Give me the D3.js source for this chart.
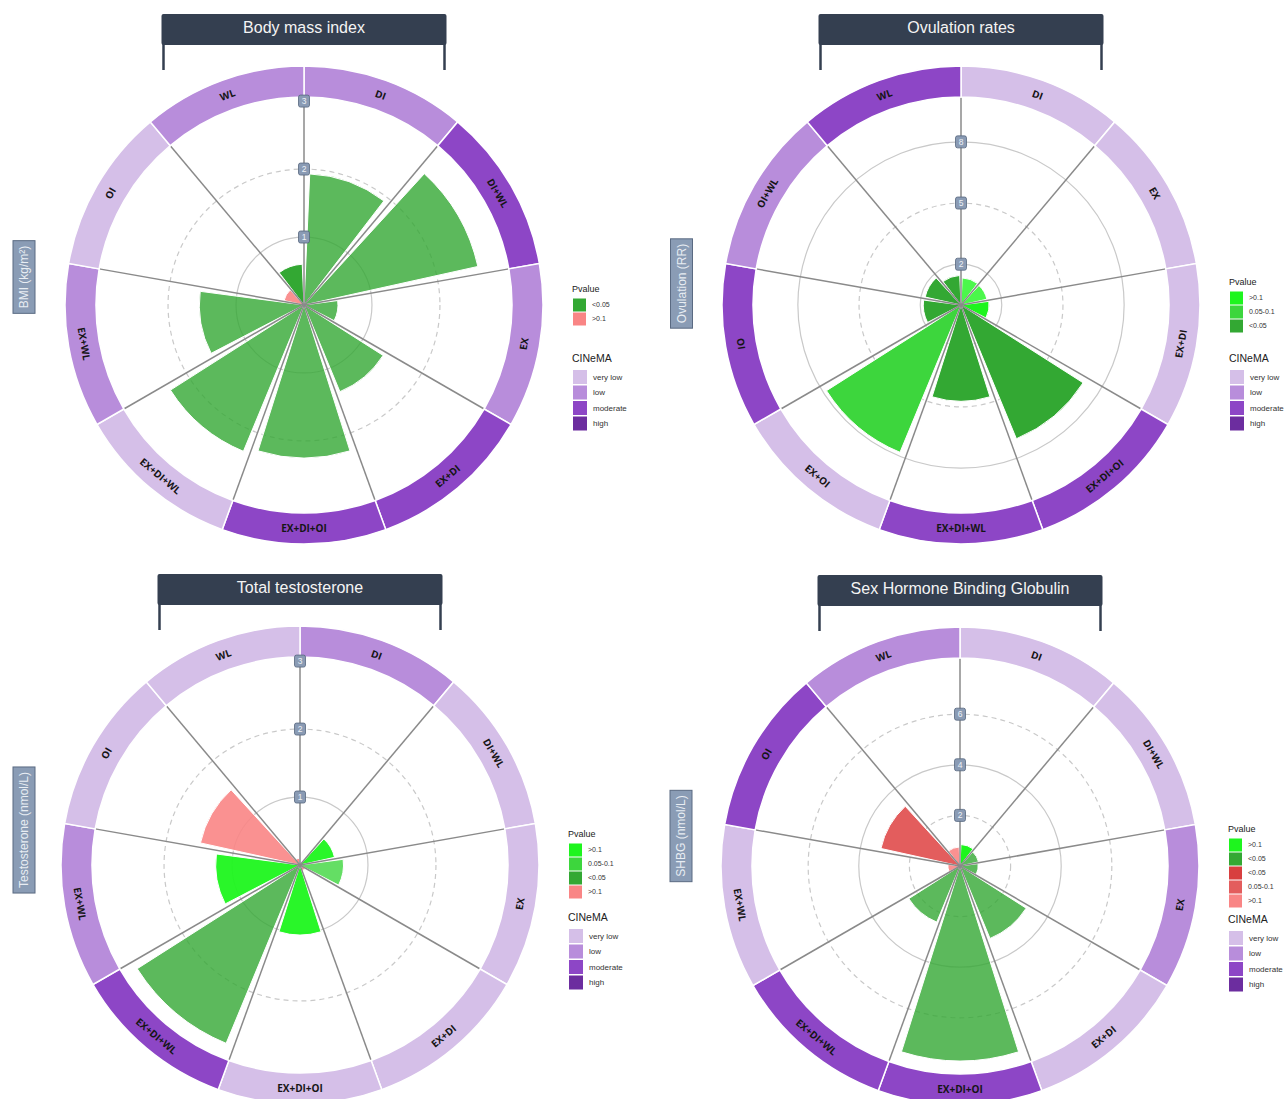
<!DOCTYPE html>
<html>
<head>
<meta charset="utf-8">
<script src="https://cdn.jsdelivr.net/npm/d3@7"></script>
<style>
  body { margin: 0; background: #ffffff; }
  svg { display: block; }
</style>
</head>
<body>
<svg id="fig" width="1287" height="1099"></svg>
<script>
// ---------- data ----------
const bmiCategories = ["DI", "DI+WL", "EX", "EX+DI", "EX+DI+OI", "EX+DI+WL", "EX+WL", "OI", "WL"];
const bmiValues     = [1.93, 2.62, 0.5, 1.38, 2.25, 2.33, 1.54, 0.3, 0.6];
const bmiPvalue     = ["+<0.05", "+<0.05", "+<0.05", "+<0.05", "+<0.05", "+<0.05", "+<0.05", "->0.1", "+<0.05"];
const bmiCinema     = ["low", "moderate", "low", "moderate", "moderate", "very low", "low", "very low", "low"];
const bmiTicks      = [1, 2, 3];
const bmiLegend     = ["+<0.05", "->0.1"];

const ovuCategories = ["DI", "EX", "EX+DI", "EX+DI+OI", "EX+DI+WL", "EX+OI", "OI", "OI+WL", "WL"];
const ovuValues     = [1.33, 1.3, 1.38, 7.1, 4.72, 7.82, 1.85, 1.8, 1.45];
const ovuPvalue     = ["+>0.1", "+>0.1", "+>0.1", "+<0.05", "+<0.05", "+0.05-0.1", "+<0.05", "+<0.05", "+<0.05"];
const ovuCinema     = ["very low", "very low", "very low", "moderate", "moderate", "very low", "moderate", "low", "moderate"];
const ovuTicks      = [2, 5, 8];
const ovuLegend     = ["+>0.1", "+0.05-0.1", "+<0.05"];

const ttCategories  = ["DI", "DI+WL", "EX", "EX+DI", "EX+DI+OI", "EX+DI+WL", "EX+WL", "OI", "WL"];
const ttValues      = [0, 0.52, 0.64, 0.09, 1.03, 2.84, 1.24, 1.5, 0.1];
const ttPvalue      = ["+>0.1", "+>0.1", "+0.05-0.1", "->0.1", "+>0.1", "+<0.05", "+>0.1", "->0.1", "->0.1"];
const ttCinema      = ["low", "very low", "very low", "very low", "very low", "moderate", "low", "very low", "very low"];
const ttTicks       = [1, 2, 3];
const ttLegend      = ["+>0.1", "+0.05-0.1", "+<0.05", "->0.1"];

const shbgCategories = ["DI", "DI+WL", "EX", "EX+DI", "EX+DI+OI", "EX+DI+WL", "EX+WL", "OI", "WL"];
const shbgValues     = [0.85, 0.75, 0.72, 3.1, 7.7, 2.4, 0.48, 3.2, 0.75];
const shbgPvalue     = ["+>0.1", "+<0.05", "+<0.05", "+<0.05", "+<0.05", "+<0.05", "->0.1", "-0.05-0.1", "->0.1"];
const shbgCinema     = ["very low", "very low", "low", "very low", "moderate", "moderate", "very low", "moderate", "low"];
const shbgTicks      = [2, 4, 6];
const shbgLegend     = ["+>0.1", "+<0.05", "-<0.05", "-0.05-0.1", "->0.1"];

const cinemaLevels = ["very low", "low", "moderate", "high"];

// ---------- styles ----------
// p-value classes: leading sign gives the direction of the effect (green / red)
const pColors = {
  "+>0.1": "#1ef51e",
  "+0.05-0.1": "#3dd63d",
  "+<0.05": "#33a833",
  "-<0.05": "#d83f3f",
  "-0.05-0.1": "#e35d5d",
  "->0.1": "#f98585"
};
const cinemaColors = {
  "very low": "#d5bfe8",
  "low": "#b88ddb",
  "moderate": "#8d46c6",
  "high": "#6c2d9f"
};
// bar fill opacity per sector
const bmiAlpha  = [0.8, 0.8, 0.8, 0.8, 0.8, 0.8, 0.8, 0.9, 1];
const ovuAlpha  = [0.8, 0.8, 1, 1, 1, 1, 1, 1, 1];
const ttAlpha   = [1, 0.95, 0.8, 0.9, 0.95, 0.8, 0.95, 0.9, 0.9];
const shbgAlpha = [1, 0.8, 0.8, 0.8, 0.8, 0.8, 0.9, 1, 0.9];

const R_INNER = 208, R_OUTER = 239;
const PAD = 2.5 * Math.PI / 180;

const panels = [
  { title: "Body mass index", yLabel: "BMI (kg/m²)", cx: 304, cy: 305, rMax: 3.06,
    categories: bmiCategories, values: bmiValues, pvalue: bmiPvalue, cinema: bmiCinema,
    alpha: bmiAlpha, ticks: bmiTicks, legend: bmiLegend,
    grid: [[1, false], [2, true]],
    yBox: [24, 277], pTitleY: 289, cTitleY: 358 },
  { title: "Ovulation rates", yLabel: "Ovulation (RR)", cx: 961, cy: 305, rMax: 10.2,
    categories: ovuCategories, values: ovuValues, pvalue: ovuPvalue, cinema: ovuCinema,
    alpha: ovuAlpha, ticks: ovuTicks, legend: ovuLegend,
    grid: [[2, false], [5, true], [8, false]],
    yBox: [681.5, 283.5], pTitleY: 282, cTitleY: 358 },
  { title: "Total testosterone", yLabel: "Testosterone (nmol/L)", cx: 300, cy: 865, rMax: 3.06,
    categories: ttCategories, values: ttValues, pvalue: ttPvalue, cinema: ttCinema,
    alpha: ttAlpha, ticks: ttTicks, legend: ttLegend,
    grid: [[1, false], [2, true]],
    yBox: [24, 830], pTitleY: 834, cTitleY: 917 },
  { title: "Sex Hormone Binding Globulin", yLabel: "SHBG (nmol/L)", cx: 960, cy: 866, rMax: 8.22,
    categories: shbgCategories, values: shbgValues, pvalue: shbgPvalue, cinema: shbgCinema,
    alpha: shbgAlpha, ticks: shbgTicks, legend: shbgLegend,
    grid: [[2, true], [4, false], [6, true]],
    yBox: [681, 836], pTitleY: 829, cTitleY: 919 }
];

const svg = d3.select("#fig");
const SANS = "'Liberation Sans', Arial, sans-serif";

function drawPanel(p) {
  const g = svg.append("g").attr("transform", `translate(${p.cx},${p.cy})`);
  const angle = d3.scaleBand().domain(p.categories).range([0, 2 * Math.PI]);
  const r = d3.scaleLinear().domain([0, p.rMax]).range([0, R_INNER]);
  const rows = p.categories.map((c, i) => ({
    cat: c, value: p.values[i], p: p.pvalue[i], cinema: p.cinema[i], alpha: p.alpha[i]
  }));
  const pt = (a, rad) => [rad * Math.sin(a), -rad * Math.cos(a)];

  // grid circles
  g.selectAll("circle.grid").data(p.grid).join("circle")
    .attr("class", "grid")
    .attr("r", d => r(d[0]))
    .attr("fill", "none")
    .attr("stroke", "#c9c9c9")
    .attr("stroke-width", 1.2)
    .attr("stroke-dasharray", d => d[1] ? "5,4" : null);

  // bars
  const barArc = d3.arc()
    .innerRadius(0)
    .outerRadius(d => r(d.value))
    .startAngle(d => angle(d.cat) + PAD)
    .endAngle(d => angle(d.cat) + angle.bandwidth() - PAD);
  g.selectAll("path.bar").data(rows.filter(d => d.value > 0)).join("path")
    .attr("class", "bar")
    .attr("d", barArc)
    .attr("fill", d => pColors[d.p])
    .attr("fill-opacity", d => d.alpha)
    .attr("stroke", "#ffffff")
    .attr("stroke-width", 1);

  // spokes at sector boundaries
  g.selectAll("line.spoke").data(p.categories).join("line")
    .attr("class", "spoke")
    .attr("x1", 0).attr("y1", 0)
    .attr("x2", d => pt(angle(d), R_INNER)[0])
    .attr("y2", d => pt(angle(d), R_INNER)[1])
    .attr("stroke", "#8a8a8a")
    .attr("stroke-width", 1.5);

  // outer CINeMA ring
  const ringArc = d3.arc()
    .innerRadius(R_INNER).outerRadius(R_OUTER)
    .startAngle(d => angle(d.cat))
    .endAngle(d => angle(d.cat) + angle.bandwidth());
  g.selectAll("path.ring").data(rows).join("path")
    .attr("class", "ring")
    .attr("d", ringArc)
    .attr("fill", d => cinemaColors[d.cinema])
    .attr("stroke", "#ffffff")
    .attr("stroke-width", 1.5);

  // ring labels, kept upright on the lower half
  const rMid = (R_INNER + R_OUTER) / 2;
  g.selectAll("text.ringlab").data(rows).join("text")
    .attr("class", "ringlab")
    .attr("transform", d => {
      const a = angle(d.cat) + angle.bandwidth() / 2;
      const deg = a * 180 / Math.PI;
      const [x, y] = pt(a, rMid);
      const rot = (deg > 90 && deg < 270) ? deg - 180 : deg;
      return `translate(${x},${y}) rotate(${rot})`;
    })
    .attr("text-anchor", "middle")
    .attr("dy", "0.35em")
    .attr("font-family", "'Open Sans', 'Noto Sans', sans-serif")
    .attr("font-weight", 700)
    .attr("font-size", 10)
    .attr("fill", "#151515")
    .text(d => d.cat);

  // radial tick labels on the vertical axis
  const tk = g.selectAll("g.tick").data(p.ticks).join("g")
    .attr("class", "tick")
    .attr("transform", d => `translate(0,${-r(d)})`);
  tk.append("rect")
    .attr("x", -5.5).attr("y", -6).attr("width", 11).attr("height", 12).attr("rx", 2)
    .attr("fill", "#8a9bb4").attr("stroke", "#56667d").attr("stroke-width", 0.8);
  tk.append("text")
    .attr("text-anchor", "middle").attr("dy", "0.36em")
    .attr("font-family", SANS).attr("font-size", 8.5)
    .attr("fill", "#eef2f7")
    .text(d => d);

  // title strip with bracket
  const tg = svg.append("g").attr("transform", `translate(${p.cx},${p.cy})`);
  tg.append("line").attr("x1", -140.5).attr("x2", -140.5).attr("y1", -262).attr("y2", -235)
    .attr("stroke", "#343f50").attr("stroke-width", 2.5);
  tg.append("line").attr("x1", 140.5).attr("x2", 140.5).attr("y1", -262).attr("y2", -235)
    .attr("stroke", "#343f50").attr("stroke-width", 2.5);
  tg.append("rect").attr("x", -142.5).attr("y", -291).attr("width", 285).attr("height", 31).attr("rx", 2)
    .attr("fill", "#343f50");
  tg.append("text").attr("x", 0).attr("y", -278).attr("dy", "0.35em")
    .attr("text-anchor", "middle")
    .attr("font-family", SANS).attr("font-size", 16)
    .attr("fill", "#f4f4f4")
    .text(p.title);

  // rotated axis title box
  const yg = svg.append("g").attr("transform", `translate(${p.yBox[0]},${p.yBox[1]}) rotate(-90)`);
  const yr = yg.append("rect").attr("fill", "#8a9cb5").attr("stroke", "#5a6a82").attr("stroke-width", 1);
  const yt = yg.append("text").attr("text-anchor", "middle").attr("dy", "0.35em")
    .attr("font-family", SANS).attr("font-size", 12)
    .attr("fill", "#e8edf3")
    .text(p.yLabel);
  const tw = yt.node().getComputedTextLength();
  yr.attr("x", -tw / 2 - 5).attr("y", -11).attr("width", tw + 10).attr("height", 22);

  // legends
  const lx = p.cx + 268;
  const lg = svg.append("g").attr("font-family", SANS);
  lg.append("text").attr("x", lx).attr("y", p.pTitleY).attr("dy", "0.35em")
    .attr("font-size", 9).attr("fill", "#222").text("Pvalue");
  p.legend.forEach((k, i) => {
    const y = p.pTitleY + 16 + i * 14;
    lg.append("rect").attr("x", lx + 1).attr("y", y - 6.5).attr("width", 13).attr("height", 13)
      .attr("fill", pColors[k]);
    lg.append("text").attr("x", lx + 20).attr("y", y).attr("dy", "0.35em")
      .attr("font-size", 7).attr("fill", "#333").text(k.slice(1));
  });
  lg.append("text").attr("x", lx).attr("y", p.cTitleY).attr("dy", "0.35em")
    .attr("font-size", 10.5).attr("fill", "#222").text("CINeMA");
  cinemaLevels.forEach((k, i) => {
    const y = p.cTitleY + 19 + i * 15.5;
    lg.append("rect").attr("x", lx + 1).attr("y", y - 7).attr("width", 14).attr("height", 14)
      .attr("fill", cinemaColors[k]);
    lg.append("text").attr("x", lx + 21).attr("y", y).attr("dy", "0.35em")
      .attr("font-size", 8).attr("fill", "#333").text(k);
  });
}

panels.forEach(drawPanel);
</script>
</body>
</html>
